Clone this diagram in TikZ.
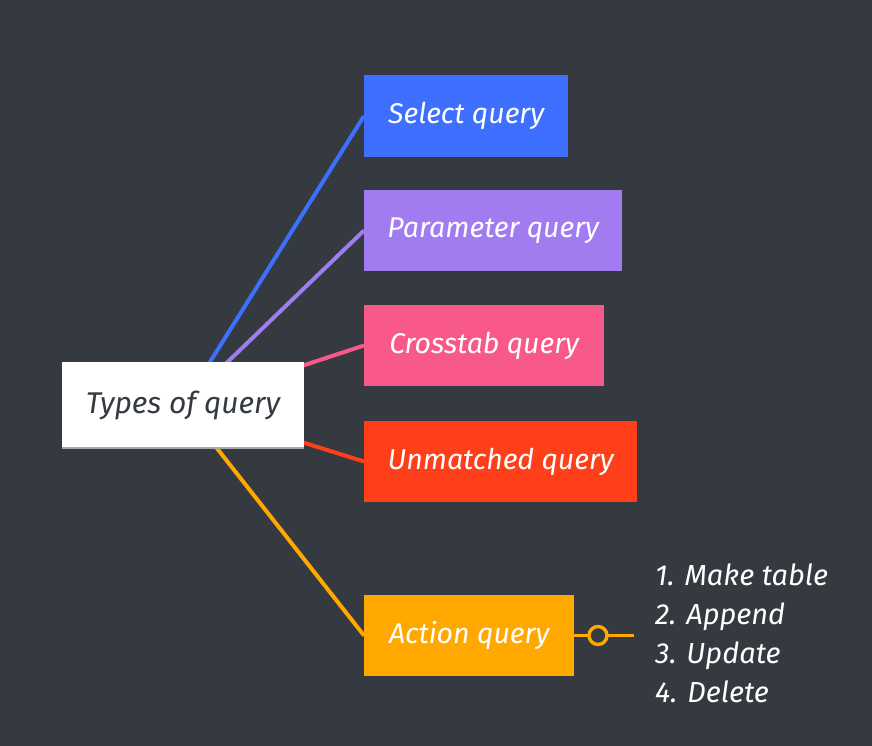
\documentclass[tikz,border=0pt]{standalone}
\usepackage{fontspec}
\setmainfont{Fira Sans}
\definecolor{bg}{HTML}{343A40}
\definecolor{cblue}{HTML}{3F6FFF}
\definecolor{cpurple}{HTML}{A07CF0}
\definecolor{cpink}{HTML}{F9588A}
\definecolor{cred}{HTML}{FF3F1A}
\definecolor{corange}{HTML}{FFA800}
\begin{document}
\begin{tikzpicture}[x=1pt,y=-1pt,
  leaf/.style={draw=none, anchor=west, minimum height=81pt, inner sep=0pt, text=white,
    font=\fontsize{28.5}{32}\selectfont\itshape},
  conn/.style={line width=4pt},
  rootbox/.style={fill=white, minimum width=242pt, minimum height=86pt, inner sep=0pt,
    text=bg, font=\fontsize{30}{34}\selectfont\itshape}]
\useasboundingbox[fill=bg] (0,0) rectangle (872,746);
\node[leaf, fill=cblue, minimum width=204pt, minimum height=82pt] (sel) at (364,116) {Select query};
\node[leaf, fill=cpurple, minimum width=258pt] (par) at (364,230.5) {Parameter query};
\node[leaf, fill=cpink, minimum width=240pt] (cro) at (364,345.5) {Crosstab query};
\node[leaf, fill=cred, minimum width=273pt] (unm) at (364,461.5) {Unmatched query};
\node[leaf, fill=corange, minimum width=210pt] (act) at (364,635.5) {Action query};
\coordinate (rc) at (183,405);
\draw[conn, cblue] (rc) -- (sel.west);
\draw[conn, cpurple] (rc) -- (par.west);
\draw[conn, cpink] (rc) -- (cro.west);
\draw[conn, cred] (rc) -- (unm.west);
\draw[conn, corange] (rc) -- (act.west);
\node[rootbox] (root) at (rc) {Types of query};
\draw[gray!70, line width=1.5pt] (root.south west) -- (root.south east);
\coordinate (lend) at (634,635.5);
\draw[conn, corange, line width=3.4pt] (act.east) -- (lend);
\node[circle, draw=corange, line width=3.4pt, fill=bg, minimum size=18pt, inner sep=0pt] (knob) at (598,635.5) {};
\node[anchor=west, align=left, text=white, inner sep=0pt,
  font=\fontsize{29}{39}\selectfont\itshape] (list) at (655,633) {1. Make table\\2. Append\\3. Update\\4. Delete};
\end{tikzpicture}
\end{document}
